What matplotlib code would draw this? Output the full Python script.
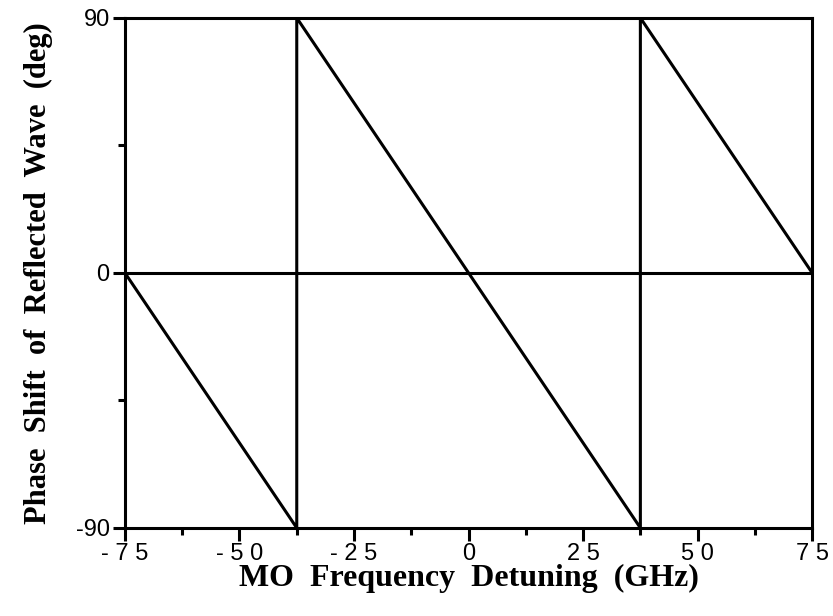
import matplotlib
matplotlib.use("Agg")
import matplotlib.pyplot as plt

# sawtooth phase curve (GHz, deg)
detuning = [-75, -37.5, -37.5, 37.5, 37.5, 75]
phase = [0, -90, 90, -90, 90, 0]

x_ticks = [-75, -50, -25, 0, 25, 50, 75]
x_labels = ["- 7 5", "- 5 0", "- 2 5", "0", "2 5", "5 0", "7 5"]
x_minor = [-62.5, -37.5, -12.5, 12.5, 37.5, 62.5]
y_ticks = [-90, 0, 90]
y_labels = ["-90", "0", "90"]
y_minor = [-45, 45]

fig = plt.figure(figsize=(8.33, 6.16), dpi=100)
ax = fig.add_axes([0.150, 0.143, 0.825, 0.828])

ax.plot(detuning, phase, color="black", lw=2.2)
ax.axhline(0, color="black", lw=2.2)

ax.set_xlim(-75, 75)
ax.set_ylim(-90, 90)
ax.set_xticks(x_ticks)
ax.set_xticklabels(x_labels)
ax.set_xticks(x_minor, minor=True)
ax.set_yticks(y_ticks)
ax.set_yticklabels(y_labels)
ax.set_yticks(y_minor, minor=True)

for s in ax.spines.values():
    s.set_linewidth(2.2)
ax.tick_params(which="major", length=9, width=2.2, direction="out", pad=2)
ax.tick_params(which="minor", length=5, width=2.2, direction="out")
for lab in ax.get_xticklabels() + ax.get_yticklabels():
    lab.set_fontfamily("Liberation Sans")
    lab.set_fontsize(17)
    lab.set_fontweight("medium")

ax.set_xlabel("MO  Frequency  Detuning  (GHz)", family="Liberation Serif",
              fontweight="bold", fontsize=23, labelpad=-1)
ax.set_ylabel("Phase  Shift  of  Reflected  Wave  (deg)", family="Liberation Serif",
              fontweight="bold", fontsize=22, labelpad=16)

fig.savefig("out.png", dpi=100)
